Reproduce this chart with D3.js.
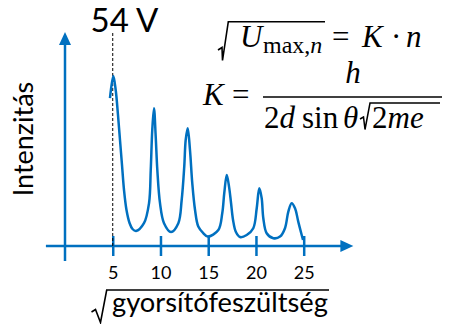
<!DOCTYPE html>
<html>
<head>
<meta charset="utf-8">
<script src="https://cdn.jsdelivr.net/npm/d3@7"></script>
<style>
  body { margin: 0; background: #fff; }
  svg { display: block; }
</style>
</head>
<body>
<div id="chart"></div>
<script>
// sqrt(accelerating voltage) values along the measured curve
var curveX = [4.71, 5.06, 5.31, 5.55, 5.76, 5.97, 6.18, 6.44, 6.76, 7.07, 7.44, 8.27, 8.80, 8.98, 9.14, 9.32,
    9.50, 9.67, 9.95, 10.37, 11.10, 11.87, 12.22, 12.49, 12.64, 12.85, 13.09, 13.33, 13.62, 13.96, 14.48,
    14.95, 16.06, 16.47, 16.68, 16.94, 17.18, 17.39, 17.60, 17.90, 18.33, 19.03, 19.72, 20.08, 20.35, 20.60,
    20.77, 21.12, 21.82, 22.52, 23.04, 23.39, 23.74, 24.09, 24.43, 24.79, 24.93];
// intensity (arbitrary units)
var curveY = [7.39, 8.50, 7.80, 6.55, 5.30, 4.05, 2.80, 1.80, 1.15, 0.85, 0.75, 1.14, 2.14, 3.80, 5.80, 6.89,
    5.47, 3.80, 2.14, 1.14, 0.70, 1.14, 2.30, 3.97, 5.30, 5.89, 4.80, 3.14, 1.80, 0.97, 0.64,
    0.47, 0.80, 1.64, 2.64, 3.55, 2.97, 2.15, 1.30, 0.70, 0.45, 0.55, 0.89, 1.89, 2.89, 2.39,
    1.39, 0.64, 0.39, 0.47, 0.89, 1.72, 2.14, 1.89, 1.22, 0.55, 0.30];
var xTicks = [5, 10, 15, 20, 25];
var peakLine = 5;
var peakLabel = "54 V";
var yLabel = "Intenzitás";
var xLabel = "gyorsítófeszültség";

function init() {
    var w = 451;
    var h = 324;
    var blue = "#0070c0";

    var svg = d3.select("#chart")
        .append("svg")
        .attr("width", w)
        .attr("height", h);

    var xScale = d3.scaleLinear().domain([0, 25]).range([65, 303.7]);
    var yScale = d3.scaleLinear().domain([0, 10]).range([246, 46]);

    // x axis with ticks crossing the line
    var xAxis = d3.axisBottom(xScale).tickValues(xTicks).tickSize(10);
    var gx = svg.append("g")
        .attr("transform", `translate(0, ${yScale(0)})`)
        .call(xAxis);
    gx.select(".domain").remove();
    gx.selectAll(".tick line")
        .attr("y1", -10)
        .attr("y2", 10)
        .attr("stroke", blue)
        .attr("stroke-width", 2.5);
    gx.selectAll(".tick text")
        .attr("y", 33)
        .attr("dy", 0)
        .attr("fill", "#000")
        .style("font-family", "Lato, 'Open Sans', sans-serif")
        .style("font-size", "18px");

    svg.append("line")
        .attr("x1", xScale(-2)).attr("x2", xScale(29))
        .attr("y1", yScale(0)).attr("y2", yScale(0))
        .attr("stroke", blue).attr("stroke-width", 2.5);
    var ax = xScale(30.2), ay = yScale(0);
    svg.append("path")
        .attr("d", `M${ax},${ay} L${ax - 13},${ay - 6} L${ax - 13},${ay + 6} Z`)
        .attr("fill", blue);

    // y axis
    svg.append("line")
        .attr("x1", xScale(0)).attr("x2", xScale(0))
        .attr("y1", yScale(-0.75)).attr("y2", yScale(10.1))
        .attr("stroke", blue).attr("stroke-width", 2.5);
    var tx = xScale(0), ty = yScale(10.7);
    svg.append("path")
        .attr("d", `M${tx},${ty} L${tx - 6},${ty + 13} L${tx + 6},${ty + 13} Z`)
        .attr("fill", blue);

    // dashed marker at the first maximum
    svg.append("line")
        .attr("x1", xScale(peakLine)).attr("x2", xScale(peakLine))
        .attr("y1", yScale(0)).attr("y2", 33)
        .attr("stroke", "#000").attr("stroke-width", 1)
        .attr("stroke-dasharray", "3,2");

    svg.append("text")
        .attr("x", 124.5)
        .attr("y", 32)
        .attr("text-anchor", "middle")
        .style("font-family", "Lato, 'Open Sans', sans-serif")
        .style("font-size", "33px")
        .text(peakLabel);

    // measured curve
    var pts = curveX.map((x, i) => [x, curveY[i]]);
    var line = d3.line()
        .x(d => xScale(d[0]))
        .y(d => yScale(d[1]))
        .curve(d3.curveCatmullRom.alpha(0.5));
    svg.append("path")
        .datum(pts)
        .attr("d", line)
        .attr("fill", "none")
        .attr("stroke", blue)
        .attr("stroke-width", 2.5);

    // y label
    svg.append("text")
        .attr("transform", "translate(33, 139) rotate(-90)")
        .attr("text-anchor", "middle")
        .style("font-family", "Lato, 'Open Sans', sans-serif")
        .style("font-size", "27px")
        .text(yLabel);

    // x label under a square root sign
    var xl = svg.append("text")
        .attr("x", 112)
        .attr("y", 312)
        .style("font-family", "Lato, 'Open Sans', sans-serif")
        .style("font-size", "26px")
        .text(xLabel);
    var len = xl.node().getComputedTextLength();
    xl.style("font-size", (26 * 216 / len) + "px");
    svg.append("path")
        .attr("d", "M91.5,312 L95.5,309.5 L100.5,322.5 L106.7,290 L329,290")
        .attr("fill", "none").attr("stroke", "#000").attr("stroke-width", 1.6);

    // formulas
    var serif = "'Liberation Serif', 'DejaVu Serif', serif";
    var f1 = svg.append("text")
        .attr("y", 47)
        .style("font-family", serif)
        .style("font-size", "31px");
    f1.append("tspan").attr("x", 240).style("font-style", "italic").text("U");
    f1.append("tspan").attr("x", 263).attr("y", 53).style("font-size", "24px").text("max,");
    f1.append("tspan").attr("y", 53).style("font-size", "24px").style("font-style", "italic").text("n");
    f1.append("tspan").attr("x", 332).attr("y", 47).text("=");
    f1.append("tspan").attr("x", 362).style("font-style", "italic").text("K");
    f1.append("tspan").attr("x", 391).text("·");
    f1.append("tspan").attr("x", 406).style("font-style", "italic").text("n");
    svg.append("path")
        .attr("d", "M218,50 L222,47.5 L222.5,60.5 L228.3,21.7 L325,21.7")
        .attr("fill", "none").attr("stroke", "#000").attr("stroke-width", 1.6);

    var f2 = svg.append("text")
        .attr("y", 105)
        .style("font-family", serif)
        .style("font-size", "31px");
    f2.append("tspan").attr("x", 203).style("font-style", "italic").text("K");
    f2.append("tspan").attr("x", 232).text("=");
    svg.append("line")
        .attr("x1", 263).attr("x2", 442)
        .attr("y1", 97).attr("y2", 97)
        .attr("stroke", "#000").attr("stroke-width", 1.5);
    svg.append("text")
        .attr("x", 353).attr("y", 83)
        .attr("text-anchor", "middle")
        .style("font-family", serif)
        .style("font-size", "31px")
        .style("font-style", "italic")
        .text("h");
    var f3 = svg.append("text")
        .attr("y", 128)
        .style("font-family", serif)
        .style("font-size", "31px");
    f3.append("tspan").attr("x", 264).text("2");
    f3.append("tspan").style("font-style", "italic").text("d");
    f3.append("tspan").attr("x", 302).text("sin");
    f3.append("tspan").attr("x", 343).style("font-style", "italic").text("θ");
    f3.append("tspan").attr("x", 372).text("2");
    f3.append("tspan").style("font-style", "italic").text("me");
    svg.append("path")
        .attr("d", "M360,119 L363.5,117 L365,129.5 L370,103 L440,103")
        .attr("fill", "none").attr("stroke", "#000").attr("stroke-width", 1.5);
}

window.onload = init;
</script>
</body>
</html>
